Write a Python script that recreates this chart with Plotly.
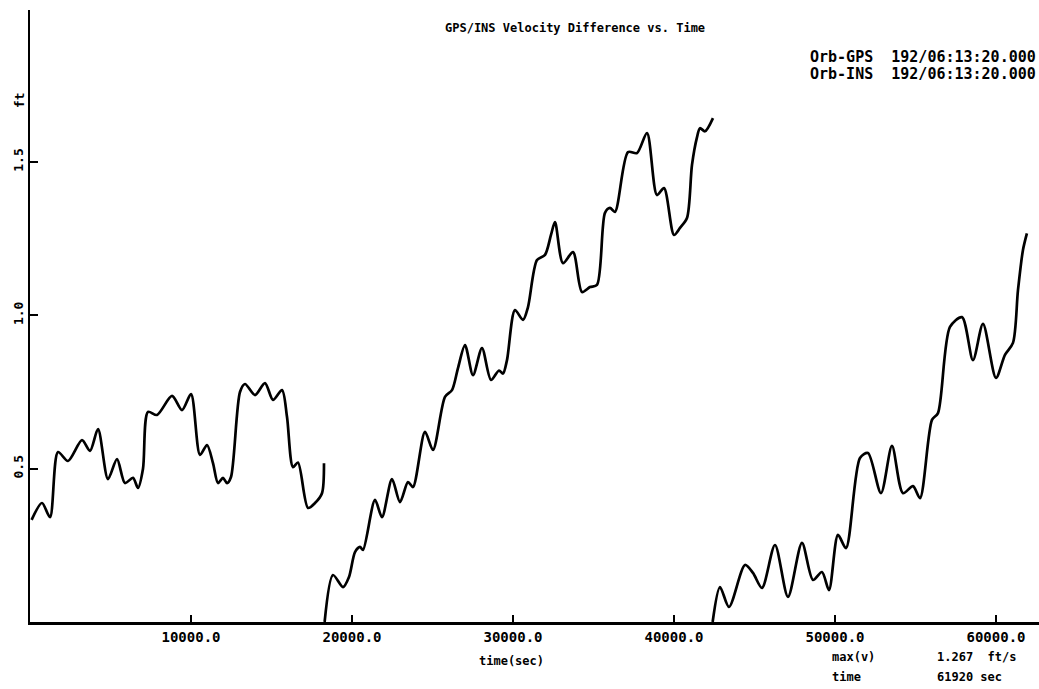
import plotly.graph_objects as go

# GPS/INS velocity difference (ft/s) against elapsed time (sec), three passes
t_pass1 = [100, 745, 1242, 1739, 2360, 3230, 3727, 4224, 4845, 5404, 5900, 6397,
           6708, 7018, 7329, 7888, 8820, 9441, 10000, 10559, 10993, 11366, 11677,
           11987, 12236, 12484, 13043, 13354, 13975, 14596, 15093, 15652, 15962,
           16335, 16645, 17266, 17701, 18136, 18260]
v_pass1 = [0.333, 0.388, 0.342, 0.554, 0.525, 0.593, 0.558, 0.629, 0.466, 0.531,
           0.453, 0.470, 0.437, 0.500, 0.685, 0.675, 0.737, 0.691, 0.743, 0.545,
           0.577, 0.518, 0.453, 0.470, 0.453, 0.473, 0.750, 0.776, 0.740, 0.779,
           0.724, 0.756, 0.669, 0.505, 0.520, 0.372, 0.388, 0.420, 0.518]

t_pass2 = [18300, 18819, 19440, 19813, 20186, 20496, 20683, 21428, 21863, 22484,
           22981, 23478, 23788, 24533, 25030, 25776, 26210, 26583, 27018, 27515,
           28074, 28633, 29130, 29378, 29627, 30123, 30620, 30931, 31490, 31987,
           32359, 32608, 33105, 33726, 34285, 34782, 35216, 35713, 36024, 36334,
           37142, 37701, 38322, 38943, 39378, 39999, 40372, 40806, 41117, 41427,
           41614, 41925, 42421]
v_pass2 = [0.000, 0.153, 0.114, 0.147, 0.228, 0.245, 0.235, 0.398, 0.342, 0.466,
           0.391, 0.456, 0.440, 0.620, 0.561, 0.734, 0.756, 0.828, 0.903, 0.805,
           0.893, 0.789, 0.820, 0.810, 0.854, 1.017, 0.985, 1.027, 1.180, 1.197,
           1.262, 1.304, 1.170, 1.206, 1.076, 1.092, 1.099, 1.334, 1.350, 1.337,
           1.532, 1.529, 1.594, 1.392, 1.415, 1.262, 1.285, 1.317, 1.490, 1.580,
           1.610, 1.600, 1.643]

t_pass3 = [42400, 42856, 43415, 44409, 44906, 45465, 46272, 47079, 47949, 48632,
           49191, 49626, 50185, 50682, 51551, 52048, 52856, 53539, 54222, 54843,
           55278, 56023, 56396, 57141, 57887, 58570, 59191, 59998, 60557, 61054,
           61365, 61675, 61920]
v_pass3 = [0.000, 0.114, 0.049, 0.186, 0.160, 0.111, 0.251, 0.082, 0.258, 0.137,
           0.163, 0.104, 0.284, 0.241, 0.535, 0.551, 0.420, 0.574, 0.420, 0.443,
           0.404, 0.659, 0.681, 0.962, 0.994, 0.854, 0.972, 0.796, 0.871, 0.910,
           1.082, 1.213, 1.267]

x_tickvals = [10000, 20000, 30000, 40000, 50000, 60000]
y_tickvals = [0.5, 1.0, 1.5]

max_v = 1.267
max_t = 61920

W, H = 1039, 689
ML, MR, MT, MB = 30, 0, 10, 67
PW, PH = W - ML - MR, H - MT - MB

# join the passes into one trace, separated by gaps
t_all = t_pass1 + [None] + t_pass2 + [None] + t_pass3
v_all = v_pass1 + [None] + v_pass2 + [None] + v_pass3

fig = go.Figure()
fig.add_trace(go.Scatter(
    x=t_all, y=v_all, mode="lines",
    line=dict(color="black", width=2.7, shape="spline", smoothing=0.8),
    connectgaps=False, showlegend=False, hoverinfo="skip",
))

MONO = "DejaVu Sans Mono"


def px_x(px):
    return (px - ML) / PW


def px_y(py):
    return (H - MB - py) / PH


def label(text, px, py, size=12, xanchor="left", angle=0):
    fig.add_annotation(
        text=text, x=px_x(px), y=px_y(py), xref="paper", yref="paper",
        showarrow=False, xanchor=xanchor, yanchor="middle", textangle=angle,
        font=dict(family=MONO, size=size, color="black", weight="bold"),
    )


label("GPS/INS Velocity Difference vs. Time", 575, 28, size=12, xanchor="center")
label("Orb-GPS  192/06:13:20.000", 808, 57, size=15)
label("Orb-INS  192/06:13:20.000", 808, 74, size=15)
label("ft", 19, 100, size=13, xanchor="center", angle=-90)
label("time(sec)", 511, 661, size=12, xanchor="center")
label("max(v)", 830, 657, size=12)
label(f"{max_v:.3f}  ft/s", 935, 657, size=12)
label("time", 830, 677, size=12)
label(f"{max_t} sec", 935, 677, size=12)

fig.update_layout(
    width=W, height=H,
    margin=dict(l=ML, r=MR, t=MT, b=MB, pad=0),
    paper_bgcolor="white", plot_bgcolor="white",
    font=dict(family=MONO, color="black"),
    xaxis=dict(
        range=[0, PW / 161.0 * 10000], showgrid=False, zeroline=False,
        showline=True, linecolor="black", linewidth=2.5,
        tickvals=x_tickvals, tickformat=".1f", ticks="inside", ticklen=7,
        tickwidth=1.5, tickcolor="black",
        tickfont=dict(family=MONO, size=14, color="black", weight="bold"),
    ),
    yaxis=dict(
        range=[0, PH / 306.7], showgrid=False, zeroline=False,
        showline=True, linecolor="black", linewidth=2,
        tickvals=y_tickvals, tickformat=".1f", ticks="inside", ticklen=8,
        tickwidth=1.5, tickcolor="black", tickangle=-90,
        tickfont=dict(family=MONO, size=13, color="black", weight="bold"),
    ),
)

fig.write_html("out.html")
